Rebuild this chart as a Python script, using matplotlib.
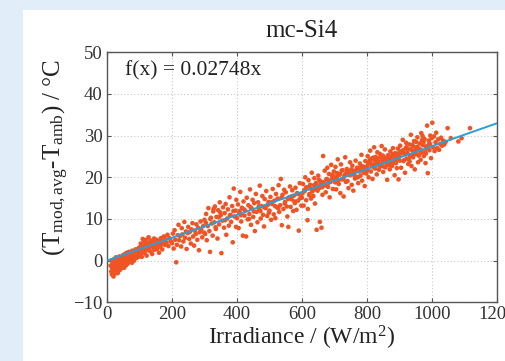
import matplotlib
matplotlib.use('Agg')
import matplotlib.pyplot as plt
from matplotlib.patches import Rectangle

# fitted slope shown on the chart
slope = 0.02748
fit_x = [0, 1200]

# scatter points, grouped by irradiance band (W/m2)
irr_0_100 = [11, 13, 14, 15, 16, 17, 18, 19, 20, 21,
             22, 23, 24, 25, 26, 27, 28, 29, 30, 31,
             32, 33, 34, 35, 36, 37, 38, 39, 40, 41,
             42, 44, 45, 46, 48, 49, 50, 52, 53, 55,
             56, 58, 59, 61, 62, 64, 65, 67, 68, 70,
             72, 73, 75, 77, 78, 80, 82, 83, 85, 87,
             88, 90, 91, 93, 94, 96, 97, 98, 99, 100]
dt_0_100 = [-1.2, -2.6, 0.1, -3.3, -1.8, -0.5, -2.9, -1.4, -3.8, -0.9,
            0.4, -2.3, -1.6, -3.1, -0.6, -2.0, 0.8, -1.1, -2.7, -0.3,
            -1.9, -3.0, 0.5, -1.3, -2.4, -0.7, 1.0, -1.6, -2.2, 0.2,
            -0.9, -1.8, 0.9, -0.2, -1.4, 1.3, -0.6, 0.4, -1.7, 1.6,
            -0.4, 0.7, -1.1, 1.9, 0.1, -0.7, 1.2, 0.3, 2.1, -0.2,
            1.0, 0.4, 1.7, -0.5, 2.4, 0.8, 1.5, 0.0, 2.0, 1.2,
            2.7, 0.6, 1.8, 1.1, 2.3, 0.9, 3.0, 1.6, 2.2, 1.3]

irr_100_300 = [101, 103, 104, 106, 107, 109, 110, 112, 113, 115,
               116, 118, 119, 121, 122, 124, 125, 127, 128, 130,
               132, 134, 135, 137, 139, 141, 143, 145, 146, 148,
               150, 152, 154, 156, 158, 160, 162, 164, 166, 168,
               170, 173, 175, 178, 180, 183, 186, 189, 192, 196,
               200, 203, 205, 208, 210, 213, 215, 218, 220, 222,
               225, 228, 230, 232, 235, 238, 240, 243, 245, 248,
               250, 253, 255, 258, 260, 263, 265, 268, 270, 273,
               275, 278, 280, 283, 285, 288, 290, 293, 296, 299]
dt_100_300 = [3.2, 1.5, 4.1, 2.3, 0.9, 3.6, 5.2, 2.0, 3.0, 4.6,
              1.8, 3.9, 2.7, 5.0, 1.2, 3.4, 4.3, 2.5, 5.6, 3.1,
              4.0, 2.2, 4.8, 3.5, 1.6, 4.4, 3.0, 5.3, 2.6, 4.1,
              3.6, 5.0, 2.8, 4.5, 3.9, 1.9, 4.8, 3.3, 5.4, 4.0,
              2.7, 4.6, 5.8, 3.8, 5.1, 4.3, 6.2, 3.5, 5.4, 4.7,
              4.2, 6.5, 2.9, 7.3, 5.0, -0.4, 3.8, 6.1, 8.6, 4.9,
              5.9, 3.4, 7.8, 6.3, 4.6, 9.3, 5.5, 7.0, 2.8, 6.6,
              8.1, 5.2, 6.9, 4.1, 7.5, 9.0, 5.8, 3.6, 7.2, 6.4,
              8.7, 5.0, 7.9, 2.5, 6.8, 9.4, 7.4, 5.6, 8.3, 6.7]

irr_300_500 = [300, 302, 305, 307, 310, 312, 315, 317, 320, 322,
               325, 327, 330, 332, 335, 337, 340, 342, 345, 347,
               350, 352, 355, 357, 360, 362, 365, 367, 370, 372,
               375, 377, 380, 382, 385, 387, 390, 392, 395, 397,
               398, 304, 318, 334, 348, 363, 378, 389, 344, 328,
               400, 403, 405, 408, 410, 413, 415, 418, 420, 423,
               425, 428, 430, 433, 435, 438, 440, 443, 445, 448,
               450, 453, 455, 458, 460, 463, 465, 468, 470, 473,
               475, 478, 480, 483, 485, 488, 490, 493, 495, 498,
               407, 422, 437, 452, 467, 482, 497, 412, 442, 472]
dt_300_500 = [9.8, 6.4, 11.2, 4.9, 8.3, 12.6, 7.1, 2.1, 10.3, 8.9,
              6.0, 11.8, 9.2, 13.0, 7.6, 10.5, 5.3, 12.1, 8.7, 14.0,
              10.9, 1.8, 9.6, 12.8, 7.9, 11.4, 13.6, 6.2, 10.1, 12.3,
              8.4, 15.2, 11.0, 9.3, 13.1, 4.4, 17.3, 10.6, 12.0, 8.1,
              14.6, 9.1, 10.0, 8.0, 11.6, 9.7, 10.8, 11.9, 10.4, 12.4,
              10.2, 13.5, 7.8, 11.9, 16.5, 9.4, 12.7, 6.0, 14.2, 10.8,
              12.0, 5.8, 15.1, 9.9, 13.3, 11.2, 17.1, 8.6, 12.5, 14.6,
              10.5, 13.8, 7.1, 16.0, 11.7, 9.2, 14.0, 12.2, 18.0, 10.1,
              13.1, 15.5, 11.0, 8.2, 14.8, 12.6, 16.7, 10.7, 13.4, 11.5,
              11.4, 12.3, 10.0, 11.8, 13.0, 12.9, 14.1, 10.9, 12.8, 11.9]

irr_500_700 = [500, 503, 505, 508, 510, 513, 515, 518, 520, 523,
               525, 528, 530, 533, 535, 538, 540, 543, 545, 548,
               550, 553, 555, 558, 560, 563, 565, 568, 570, 573,
               575, 578, 580, 583, 585, 588, 590, 593, 595, 598,
               507, 517, 527, 537, 547, 557, 567, 577, 587, 597,
               600, 603, 605, 608, 610, 613, 615, 618, 620, 623,
               625, 628, 630, 633, 635, 638, 640, 643, 645, 648,
               650, 653, 655, 658, 660, 663, 665, 668, 670, 673,
               675, 678, 680, 683, 685, 688, 690, 693, 695, 698,
               607, 617, 627, 637, 647, 657, 667, 677, 687, 697,
               612, 632, 652, 672, 692, 602, 622, 642, 662, 682]
dt_500_700 = [12.0, 15.3, 9.8, 13.6, 17.2, 11.1, 14.4, 10.2, 16.0, 12.8,
              14.9, 18.1, 11.7, 13.3, 19.6, 8.5, 15.8, 12.4, 17.0, 14.1,
              16.4, 13.0, 10.6, 8.1, 15.2, 17.8, 12.9, 14.7, 16.9, 11.9,
              15.6, 13.8, 17.5, 12.2, 16.2, 14.4, 7.2, 18.6, 15.0, 13.2,
              14.0, 13.1, 12.6, 15.1, 13.7, 14.8, 15.4, 14.2, 16.0, 15.9,
              15.1, 18.4, 13.2, 16.7, 20.0, 14.5, 17.6, 12.4, 19.3, 16.0,
              18.2, 14.9, 21.1, 17.0, 15.5, 19.8, 13.7, 18.6, 7.4, 16.8,
              20.4, 17.4, 9.3, 19.0, 7.9, 15.8, 25.1, 18.0, 21.6, 16.4,
              19.5, 22.3, 17.7, 20.8, 15.2, 18.9, 23.0, 19.9, 17.2, 21.4,
              16.9, 9.7, 17.3, 18.1, 17.9, 18.5, 18.8, 19.6, 19.2, 20.3,
              17.5, 16.6, 19.4, 18.2, 20.6, 16.2, 15.7, 17.1, 17.6, 18.7]

irr_700_900 = [700, 703, 705, 708, 710, 713, 715, 718, 720, 723,
               725, 728, 730, 733, 735, 738, 740, 743, 745, 748,
               750, 753, 755, 758, 760, 763, 765, 768, 770, 773,
               775, 778, 780, 783, 785, 788, 790, 793, 795, 798,
               707, 717, 727, 737, 747, 757, 767, 777, 787, 797,
               702, 722, 742, 762, 782, 712, 732, 752, 772, 792,
               800, 802, 805, 807, 810, 812, 815, 817, 820, 822,
               825, 827, 830, 832, 835, 837, 840, 842, 845, 847,
               850, 852, 855, 857, 860, 862, 865, 867, 870, 872,
               875, 877, 880, 882, 885, 887, 890, 892, 895, 897,
               804, 814, 824, 834, 844, 854, 864, 874, 884, 894,
               809, 819, 829, 839, 849, 859, 869, 879, 889, 899,
               801, 811, 821, 831, 841, 851, 861, 871, 881, 891]
dt_700_900 = [19.8, 22.5, 17.1, 21.0, 24.3, 18.4, 20.6, 16.2, 23.1, 19.5,
              21.7, 15.4, 20.2, 24.8, 18.9, 22.0, 19.1, 17.4, 21.3, 23.6,
              20.7, 18.2, 22.8, 16.8, 21.5, 19.7, 24.0, 20.1, 22.3, 18.6,
              21.9, 23.3, 20.4, 25.4, 19.2, 22.6, 21.1, 17.9, 23.9, 20.9,
              20.0, 20.8, 19.6, 21.2, 20.5, 21.0, 21.8, 21.4, 22.1, 21.7,
              18.8, 21.6, 20.9, 20.3, 22.7, 19.3, 20.6, 21.9, 20.0, 22.4,
              22.6, 25.1, 20.0, 23.7, 26.4, 21.4, 24.5, 19.6, 23.0, 27.2,
              22.1, 24.9, 20.7, 26.0, 23.4, 21.8, 25.6, 22.9, 27.5, 24.1,
              21.3, 23.8, 26.7, 22.4, 24.7, 19.4, 25.3, 23.1, 21.9, 26.2,
              24.3, 22.7, 27.0, 23.5, 20.5, 25.8, 24.0, 22.2, 26.9, 19.5,
              23.3, 22.8, 24.0, 23.9, 23.2, 24.6, 24.2, 23.6, 25.0, 24.8,
              24.2, 24.7, 23.1, 22.5, 25.2, 23.7, 22.9, 25.5, 23.4, 25.9,
              21.7, 23.5, 22.4, 24.4, 24.8, 22.6, 23.0, 24.9, 24.1, 25.4]

irr_900_1120 = [900, 902, 905, 907, 910, 912, 915, 917, 920, 922,
                925, 927, 930, 932, 935, 937, 940, 942, 945, 947,
                950, 952, 955, 957, 960, 962, 965, 967, 970, 972,
                975, 977, 980, 982, 985, 987, 990, 992, 995, 997,
                904, 914, 924, 934, 944, 954, 964, 974, 984, 994,
                909, 919, 929, 939, 949, 959, 969, 979, 989, 999,
                901, 911, 921, 931, 941, 951, 961, 971, 981, 991,
                1001, 1003, 1006, 1008, 1011, 1013, 1016, 1019, 1022, 1025,
                1028, 1031, 1034, 1038, 1042, 1048, 1058, 1081, 1091, 1117]
dt_900_1120 = [25.0, 27.6, 22.3, 26.1, 29.0, 23.9, 25.7, 21.1, 28.3, 24.5,
               26.8, 23.2, 27.9, 25.3, 30.2, 22.7, 26.4, 24.8, 28.7, 21.9,
               27.1, 25.6, 29.6, 23.6, 26.9, 28.1, 24.2, 30.6, 26.0, 27.7,
               25.1, 29.2, 23.4, 27.4, 32.4, 21.0, 28.8, 26.5, 30.0, 24.6,
               26.2, 24.1, 25.9, 26.7, 25.4, 27.3, 26.6, 28.4, 27.0, 28.0,
               25.8, 26.9, 24.4, 27.8, 26.3, 25.2, 28.9, 26.1, 27.6, 29.4,
               24.0, 26.5, 27.2, 23.8, 27.5, 28.5, 25.5, 29.9, 25.7, 27.9,
               33.1, 27.2, 29.8, 26.3, 28.4, 30.7, 27.0, 29.1, 26.6, 28.0,
               29.5, 27.6, 28.8, 27.9, 28.5, 31.8, 29.4, 28.6, 29.4, 31.8]

x_ticks = [0, 200, 400, 600, 800, 1000, 1200]
y_ticks = [-10, 0, 10, 20, 30, 40, 50]

plt.rcParams['font.family'] = ['Liberation Serif', 'DejaVu Serif']
plt.rcParams['mathtext.fontset'] = 'custom'
plt.rcParams['mathtext.rm'] = 'Liberation Serif'
plt.rcParams['mathtext.it'] = 'Liberation Serif:italic'

fig = plt.figure(figsize=(5.05, 3.61), dpi=100, facecolor='#e1edf8')
# white card behind the chart
fig.add_artist(Rectangle((23 / 505, 0), 1, 1 - 10 / 361, transform=fig.transFigure,
                         facecolor='white', edgecolor='none', zorder=-5))

ax = fig.add_axes([107 / 505, 58.7 / 361, 390 / 505, 250 / 361])
ax.set_zorder(1)

irr = irr_0_100 + irr_100_300 + irr_300_500 + irr_500_700 + irr_700_900 + irr_900_1120
dt = dt_0_100 + dt_100_300 + dt_300_500 + dt_500_700 + dt_700_900 + dt_900_1120

ax.scatter(irr, dt, s=11, color='#f05424', edgecolors='none', zorder=2)
ax.plot(fit_x, [slope * v for v in fit_x], color='#2a9fd8', lw=1.4, zorder=3)

ax.set_xlim(0, 1200)
ax.set_ylim(-10, 50)
ax.set_xticks(x_ticks)
ax.set_yticks(y_ticks)
ax.grid(True, color='#c8c8c8', linestyle=(0, (1, 2)), linewidth=0.8, zorder=0)
ax.tick_params(direction='in', top=True, right=True, length=3, color='#555555',
               labelsize=13.5, labelcolor='#333333', pad=3)
for sp in ax.spines.values():
    sp.set_color('#555555')
    sp.set_linewidth(1.0)

ax.set_title('mc-Si4', fontsize=18, color='#222222', pad=11)
ax.set_xlabel('Irradiance / (W/m$^2$)', fontsize=17, color='#222222', labelpad=0)
ax.set_ylabel(r'(T$_{\rm mod,avg}$-T$_{\rm amb}$) / °C', fontsize=18, color='#222222')
ax.yaxis.set_label_coords(-0.092, 0.58)
ax.text(0.045, 0.925, 'f(x) = 0.02748x', transform=ax.transAxes, fontsize=15.5,
        color='#222222', va='center', ha='left')

fig.savefig('out.png', dpi=100, facecolor=fig.get_facecolor())
